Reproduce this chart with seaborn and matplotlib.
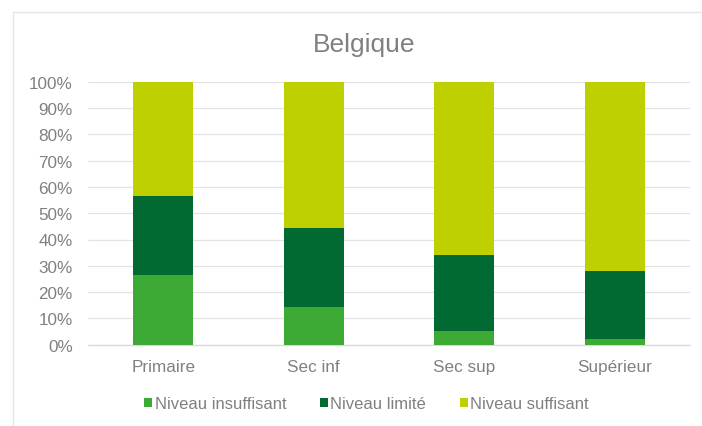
import matplotlib
matplotlib.use("Agg")
import matplotlib.pyplot as plt
from matplotlib.lines import Line2D
from matplotlib.patches import Patch
from matplotlib.ticker import PercentFormatter
import numpy as np
import seaborn as sns

categories = ["Primaire", "Sec inf", "Sec sup", "Supérieur"]
insuffisant = [26.6, 14.2, 5.1, 2.0]
limite = [29.8, 30.2, 29.1, 25.9]
suffisant = [43.6, 55.6, 65.8, 72.1]
series_names = ["Niveau insuffisant", "Niveau limité", "Niveau suffisant"]
colors = ["#3DAA35", "#006A32", "#BFD000"]

sns.set_theme(style="white")
plt.rcParams["font.family"] = ["Liberation Sans", "DejaVu Sans"]

fig = plt.figure(figsize=(7.02, 4.27), dpi=100)
ax = fig.add_axes([88 / 702, 1 - 345.7 / 427, (690 - 88) / 702, (345.7 - 82.7) / 427])

ins = np.array(insuffisant)
lim = np.array(limite)
suf = np.array(suffisant)
stacks = [ins + lim + suf, ins + lim, ins]
for heights, color in zip(stacks, colors[::-1]):
    sns.barplot(x=categories, y=heights, color=color, width=0.4,
                saturation=1, linewidth=0, edgecolor="none", ax=ax, zorder=3)

ax.set_ylim(0, 100)
ax.set_yticks(np.arange(0, 101, 10))
ax.yaxis.set_major_formatter(PercentFormatter(decimals=0))
ax.grid(axis="y", color="#E3E3E3", linewidth=0.9, zorder=0)
ax.grid(axis="x", visible=False)
for side in ["top", "right", "left"]:
    ax.spines[side].set_visible(False)
ax.spines["bottom"].set_color("#D9D9D9")
ax.spines["bottom"].set_linewidth(0.9)
ax.tick_params(axis="both", length=0, colors="#808080", labelsize=12.3)
ax.tick_params(axis="x", pad=10)
ax.tick_params(axis="y", pad=11)
ax.set_xlabel("")
ax.set_ylabel("")

fig.text(0.518, 1 - 45 / 427, "Belgique", ha="center", va="center",
         fontsize=19, color="#808080")

handles = [Patch(facecolor=c, edgecolor="none") for c in colors]
fig.legend(handles, series_names, loc="center", bbox_to_anchor=(0.522, 1 - 405 / 427),
           ncol=3, frameon=False, fontsize=12, labelcolor="#808080",
           handlelength=0.5, handleheight=0.5, handletextpad=0.15, columnspacing=2.0)

# light frame around the chart area
fig.add_artist(Line2D([13 / 702, 13 / 702], [0, 1 - 13 / 427], color="#E6E6E6", lw=1))
fig.add_artist(Line2D([13 / 702, 1], [1 - 13 / 427, 1 - 13 / 427], color="#E6E6E6", lw=1))

fig.savefig("out.png", dpi=100)
